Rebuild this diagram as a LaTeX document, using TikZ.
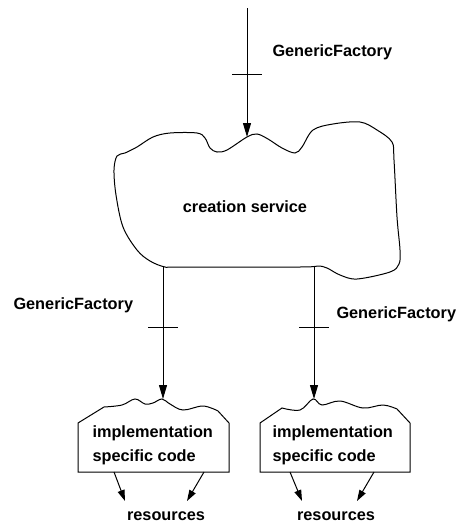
\documentclass[tikz,border=0pt]{standalone}
\usepackage{fontspec}
\setmainfont{Liberation Sans}
\usetikzlibrary{arrows.meta}

\begin{document}
\begin{tikzpicture}[x=1pt, y=-1pt, line width=1pt,
    lbl/.style={font=\fontsize{16.3}{24}\selectfont\bfseries, inner sep=0pt, anchor=base west},
    lblc/.style={font=\fontsize{16.3}{24}\selectfont\bfseries, inner sep=0pt, anchor=base},
    bigarrow/.style={-{Triangle[length=14pt, width=8pt]}},
    smallarrow/.style={-{Triangle[length=11pt, width=7pt]}}]
  \useasboundingbox (0,0) rectangle (456,525);

  % the creation service cloud
  \draw plot[smooth cycle, tension=0.55] coordinates {
    (114,170) (117,156) (125,153) (137,147) (153,137) (170,133) (197,133)
    (205,138) (210,148) (217,152) (227,150) (247,137) (257,134) (268,139)
    (282,148) (295,153) (302,147) (313,130) (333,124) (360,122) (377,130)
    (392,142) (394,160) (397,217) (400,250) (399,264) (390,272) (357,279)
    (340,275) (327,268) (318,266) (300,267) (180,267) (165,267) (150,261)
    (137,250) (123,227) (116,195)};
  \node[lblc] (cs) at (245,212) {creation service};

  % implementation boxes with wavy tops
  \draw (78,423) -- (78,472) -- (229,472) -- (229,423)
    -- plot[smooth, tension=0.6] coordinates {(218,411) (203,406) (183,410)
       (170,404) (162,399) (153,403) (145,404) (135,399) (122,405) (104,407)}
    -- cycle;
  \draw (260,423) -- (260,472) -- (410,472) -- (410,423)
    -- plot[smooth, tension=0.6] coordinates {(397,409) (383,405) (363,408)
       (340,401) (322,405) (313,399) (300,410) (282,408)}
    -- cycle;

  \node[lbl] (implA) at (92,437) {implementation};
  \node[lbl] (specA) at (92,461) {specific code};
  \node[lbl] (implB) at (272,437) {implementation};
  \node[lbl] (specB) at (272,461) {specific code};

  % anchor points of the connectors
  \coordinate (topin) at (247,8);
  \coordinate (cloudtop) at (247,137);
  \coordinate (cloudL) at (163,267);
  \coordinate (cloudR) at (314,267);
  \coordinate (boxAtop) at (163,399);
  \coordinate (boxBtop) at (314,399);
  \coordinate (boxAl) at (114,472);
  \coordinate (boxAr) at (204,472);
  \coordinate (boxBl) at (290,472);
  \coordinate (boxBr) at (374,472);
  \coordinate (resAl) at (125,501);
  \coordinate (resAr) at (187,501);
  \coordinate (resBl) at (302,501);
  \coordinate (resBr) at (357,501);

  % GenericFactory interfaces, each with a cross bar
  \draw[bigarrow] (topin) -- coordinate[pos=0.512] (tk1) (cloudtop);
  \draw[bigarrow] (cloudL) -- coordinate[pos=0.462] (tk2) (boxAtop);
  \draw[bigarrow] (cloudR) -- coordinate[pos=0.462] (tk3) (boxBtop);
  \foreach \t in {tk1,tk2,tk3}
    \draw ([xshift=-15pt]\t) -- ([xshift=15pt]\t);

  \node[lbl] (gfTop) at (272,56) {GenericFactory};
  \node[lbl] (gfLeft) at (13,309) {GenericFactory};
  \node[lbl] (gfRight) at (336,318) {GenericFactory};

  % resources
  \draw[smallarrow] (boxAl) -- (resAl);
  \draw[smallarrow] (boxAr) -- (resAr);
  \draw[smallarrow] (boxBl) -- (resBl);
  \draw[smallarrow] (boxBr) -- (resBr);
  \node[lblc] (resA) at (166,520) {resources};
  \node[lblc] (resB) at (336,520) {resources};
\end{tikzpicture}
\end{document}
